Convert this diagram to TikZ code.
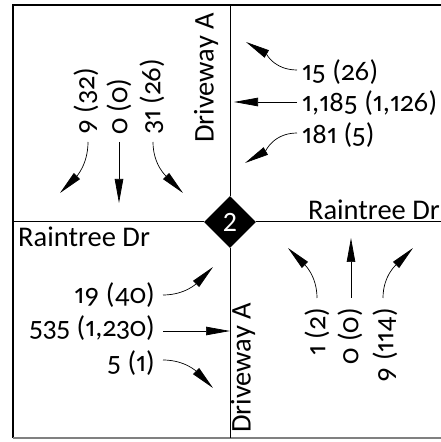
\documentclass[tikz,border=0pt]{standalone}
\usepackage{fontspec}
\setmainfont{Carlito}[Numbers={OldStyle,Proportional}]
\usetikzlibrary{arrows.meta,shapes.geometric}
\begin{document}
\begin{tikzpicture}[x=1pt,y=1pt,
  road/.style={line width=1pt},
  flow/.style={line width=0.7pt,-{Triangle[length=24pt,width=8.5pt]}},
  lbl/.style={font=\fontsize{28.5}{30}\selectfont, inner sep=0pt},
  vlbl/.style={lbl, rotate=90},
]
\useasboundingbox (0,0) rectangle (441,442);
% outer frame
\coordinate (tr) at (441,437);
\coordinate (tl) at (13,437);
\coordinate (bl) at (13,4);
\coordinate (br) at (441,4);
\draw[line width=1.3pt] (tr) -- (tl) -- (bl);
\draw[gray, line width=2pt] (bl) -- (br);

% intersection marker and road centre lines
\node[diamond, fill=black, minimum size=52pt, inner sep=0pt, text=white,
      font=\fontsize{28}{30}\selectfont\addfontfeatures{Numbers=Lining}] (int) at (230,220) {2};
\coordinate (rn) at (230,437);
\coordinate (rs) at (230,4);
\coordinate (rw) at (13,220);
\coordinate (re) at (441,220);
\draw[road] (rn) -- (int.north);
\draw[road] (int.south) -- (rs);
\draw[road] (rw) -- (int.west);
\draw[road] (int.east) -- (re);

% street names
\node[vlbl] (dwn) at (206,364) {Driveway A};
\node[vlbl] (dws) at (243,74) {Driveway A};
\node[lbl, anchor=west] (rtw) at (18,205) {Raintree Dr};
\node[lbl, anchor=east] (rte) at (440,232) {Raintree Dr};

% southbound approach (Driveway A, north leg)
\node[vlbl, anchor=west] (n1) at (86,307) {9 (32)};
\node[vlbl, anchor=west] (n2) at (119,307) {0 (0)};
\node[vlbl, anchor=west] (n3) at (152,307) {31 (26)};
\coordinate (n1e) at (60,249);
\coordinate (n2e) at (119,239);
\coordinate (n3e) at (183,249);
\draw[flow] ([xshift=2pt,yshift=-7pt]n1.west) to[out=-90,in=45] (n1e);
\draw[flow] ([yshift=-7pt]n2.west) -- (n2e);
\draw[flow] ([xshift=1pt,yshift=-7pt]n3.west) to[out=-90,in=135] (n3e);

% westbound approach (Raintree Dr, east leg)
\node[lbl, anchor=west] (e1) at (302,370) {15 (26)};
\node[lbl, anchor=west] (e2) at (302,339) {1,185 (1,126)};
\node[lbl, anchor=west] (e3) at (302,307) {181 (5)};
\coordinate (e1e) at (246,400);
\coordinate (e2e) at (234,340);
\coordinate (e3e) at (245,279);
\draw[flow] ([xshift=-5pt,yshift=2pt]e1.west) to[out=180,in=-30] (e1e);
\draw[flow] ([xshift=-5pt,yshift=1pt]e2.west) -- (e2e);
\draw[flow] ([xshift=-5pt,yshift=2pt]e3.west) to[out=180,in=30] (e3e);

% eastbound approach (Raintree Dr, west leg)
\node[lbl, anchor=east] (w1) at (155,147) {19 (40)};
\node[lbl, anchor=east] (w2) at (155,114) {535 (1,230)};
\node[lbl, anchor=east] (w3) at (155,79) {5 (1)};
\coordinate (w1e) at (213,175);
\coordinate (w2e) at (230,111);
\coordinate (w3e) at (213,54);
\draw[flow] ([xshift=8pt]w1.east) to[out=0,in=225] (w1e);
\draw[flow] ([xshift=8pt,yshift=-3pt]w2.east) -- (w2e);
\draw[flow] ([xshift=8pt,yshift=3pt]w3.east) to[out=0,in=135] (w3e);

% northbound approach (Driveway A, south leg)
\node[vlbl, anchor=east] (s1) at (317,134) {1 (2)};
\node[vlbl, anchor=east] (s2) at (350,134) {0 (0)};
\node[vlbl, anchor=east] (s3) at (385,134) {9 (114)};
\coordinate (s1e) at (288,194);
\coordinate (s2e) at (351,204);
\coordinate (s3e) at (413,194);
\draw[flow] ([yshift=10pt]s1.east) to[out=90,in=-45] (s1e);
\draw[flow] ([xshift=1pt,yshift=10pt]s2.east) -- (s2e);
\draw[flow] ([xshift=-2pt,yshift=10pt]s3.east) to[out=90,in=225] (s3e);
\end{tikzpicture}
\end{document}
